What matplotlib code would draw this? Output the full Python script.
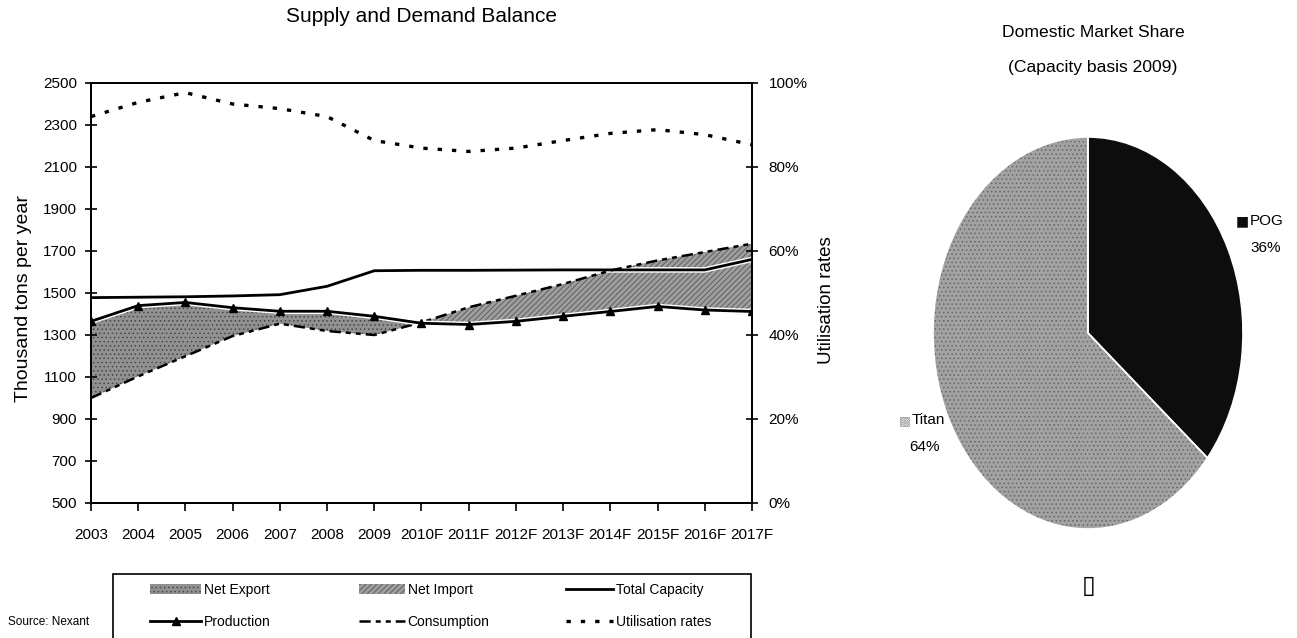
import numpy as np
import matplotlib
matplotlib.use("Agg")
import matplotlib.pyplot as plt
import matplotlib.patheffects as pe
from matplotlib.lines import Line2D
from matplotlib.patches import Patch, Rectangle
from matplotlib.ticker import FuncFormatter

# data
years = ["2003", "2004", "2005", "2006", "2007", "2008", "2009", "2010F",
         "2011F", "2012F", "2013F", "2014F", "2015F", "2016F", "2017F"]
capacity = [1478, 1480, 1482, 1486, 1492, 1532, 1606, 1608, 1608, 1609,
            1610, 1610, 1610, 1610, 1660]
production = [1365, 1440, 1455, 1430, 1413, 1413, 1389, 1356, 1350, 1365,
              1389, 1412, 1436, 1419, 1412]
consumption = [1000, 1103, 1199, 1295, 1354, 1319, 1300, 1360, 1432, 1487,
               1543, 1607, 1655, 1695, 1735]
utilisation = [92.0, 95.4, 97.7, 95.0, 93.9, 92.0, 86.3, 84.5, 83.7, 84.5,
               86.3, 88.0, 88.9, 87.7, 85.3]

share_labels = ["POG", "Titan"]
share_values = [36, 64]

plt.rcParams["font.family"] = ["Liberation Sans", "DejaVu Sans"]
plt.rcParams["hatch.linewidth"] = 0.6

W, H = 1297, 638
fig = plt.figure(figsize=(W / 100, H / 100), dpi=100)


def fx(px):
    return px / W


def fy(py):
    return 1 - py / H


export_style = dict(facecolor="#919191", edgecolor="#474747", hatch="....", linewidth=0)
import_style = dict(facecolor="#9e9e9e", edgecolor="#565656", hatch="//////", linewidth=0)

# ---- left: supply and demand balance ----
ax = fig.add_axes([fx(91), fy(503), fx(752) - fx(91), fy(83) - fy(503)])
x = np.arange(len(years))
prod = np.array(production, dtype=float)
cons = np.array(consumption, dtype=float)

ax.fill_between(x, prod, cons, where=prod >= cons, interpolate=True, **export_style)
ax.fill_between(x, prod, cons, where=prod <= cons, interpolate=True, **import_style)

white_edge = [pe.Stroke(linewidth=4, foreground="white"), pe.Normal()]
ax.plot(x, capacity, color="black", lw=2, path_effects=white_edge, zorder=3)
ax.plot(x, production, color="black", lw=2, path_effects=white_edge, zorder=4)
ax.plot(x, production, color="black", ls="none", marker="^", ms=6, zorder=5)
cons_dash = [4.5, 2, 2, 2, 2, 2]
ax.plot(x, consumption, color="black", lw=1.8, dashes=cons_dash, zorder=3)

ax.set_xlim(0, len(years) - 1)
ax.set_ylim(500, 2500)
ax.set_yticks(range(500, 2501, 200))
ax.set_xticks(x)
ax.set_xticklabels(years)
ax.tick_params(axis="y", direction="inout", length=8, width=1.2, pad=6, labelsize=11)
ax.tick_params(axis="x", direction="out", length=6, width=1.2, pad=12, labelsize=11)
for s in ax.spines.values():
    s.set_linewidth(1.3)

ax2 = ax.twinx()
util_dash = [1.3, 3.0]
ax2.plot(x, np.array(utilisation) / 100, color="black", lw=2.4, dashes=util_dash)
ax2.set_ylim(0, 1)
ax2.set_yticks(np.linspace(0, 1, 6))
ax2.yaxis.set_major_formatter(FuncFormatter(lambda v, p: f"{v * 100:.0f}%"))
ax2.tick_params(axis="y", direction="inout", length=8, width=1.2, pad=8, labelsize=11)
for s in ax2.spines.values():
    s.set_linewidth(1.3)

fig.text(fx(421), fy(22), "Supply and Demand Balance", ha="center", va="baseline",
         fontsize=15)
fig.text(fx(24), fy(298), "Thousand tons per year", rotation=90, ha="center",
         va="center", fontsize=14)
fig.text(fx(826), fy(300), "Utilisation rates", rotation=90, ha="center",
         va="center", fontsize=13.5)

# ---- legend (three columns, boxed) ----
h_export = Patch(**export_style)
h_import = Patch(**import_style)
h_cap = Line2D([], [], color="black", lw=2)
h_prod = Line2D([], [], color="black", lw=2, marker="^", ms=6)
h_cons = Line2D([], [], color="black", lw=1.8, dashes=cons_dash)
h_util = Line2D([], [], color="black", lw=2.4, dashes=util_dash)

columns = [
    ([h_export, h_prod], ["Net Export", "Production"], 150, 3.7),
    ([h_import, h_cons], ["Net Import", "Consumption"], 359, 3.3),
    ([h_cap, h_util], ["Total Capacity", "Utilisation rates"], 566, 3.4),
]
for handles, labels, left, hl in columns:
    fig.legend(handles, labels, loc="upper left", bbox_to_anchor=(fx(left), fy(583)),
               frameon=False, borderpad=0, borderaxespad=0, handlelength=hl,
               handletextpad=0.2, labelspacing=1.3, fontsize=10)

fig.add_artist(Rectangle((fx(113), fy(645)), fx(751) - fx(113), fy(574) - fy(645),
                         transform=fig.transFigure, fill=False, edgecolor="black", lw=1.2))
fig.text(fx(8), fy(625), "Source: Nexant", ha="left", va="baseline", fontsize=8.5)

# ---- right: domestic market share pie ----
pax = fig.add_axes([fx(933), fy(529), fx(1243) - fx(933), fy(137) - fy(529)])
wedges, _ = pax.pie(share_values, startangle=90, counterclock=False, radius=1,
                    colors=["#0d0d0d", "#a2a2a2"])
wedges[1].set_hatch("....")
wedges[1].set_edgecolor("#666666")
wedges[1].set_linewidth(0)
wedges[0].set_linewidth(0)
pax.pie(share_values, startangle=90, counterclock=False, radius=1,
        wedgeprops=dict(fill=False, edgecolor="white", lw=1.2))
pax.set_aspect("auto")
pax.set_xlim(-1, 1)
pax.set_ylim(-1, 1)
pax.axis("off")

fig.text(fx(1093), fy(37), "Domestic Market Share", ha="center", va="baseline",
         fontsize=12.6)
fig.text(fx(1093), fy(72), "(Capacity basis 2009)", ha="center", va="baseline",
         fontsize=12.6)

fig.text(fx(1249), fy(225), "■", ha="right", va="baseline", fontsize=10,
         family="DejaVu Sans", color="#0d0d0d")
fig.text(fx(1250), fy(225), f"{share_labels[0]}", ha="left", va="baseline", fontsize=11)
fig.text(fx(1266), fy(252), f"{share_values[0]}%", ha="center", va="baseline", fontsize=11)
fig.text(fx(911), fy(424), "▩", ha="right", va="baseline", fontsize=9,
         family="DejaVu Sans", color="#9a9a9a")
fig.text(fx(912), fy(424), f"{share_labels[1]}", ha="left", va="baseline", fontsize=11)
fig.text(fx(924), fy(451), f"{share_values[1]}%", ha="center", va="baseline", fontsize=11)
fig.text(fx(1089), fy(593), "▯", ha="center", va="baseline", fontsize=18,
         family="DejaVu Sans")

fig.savefig("out.png", dpi=100)
